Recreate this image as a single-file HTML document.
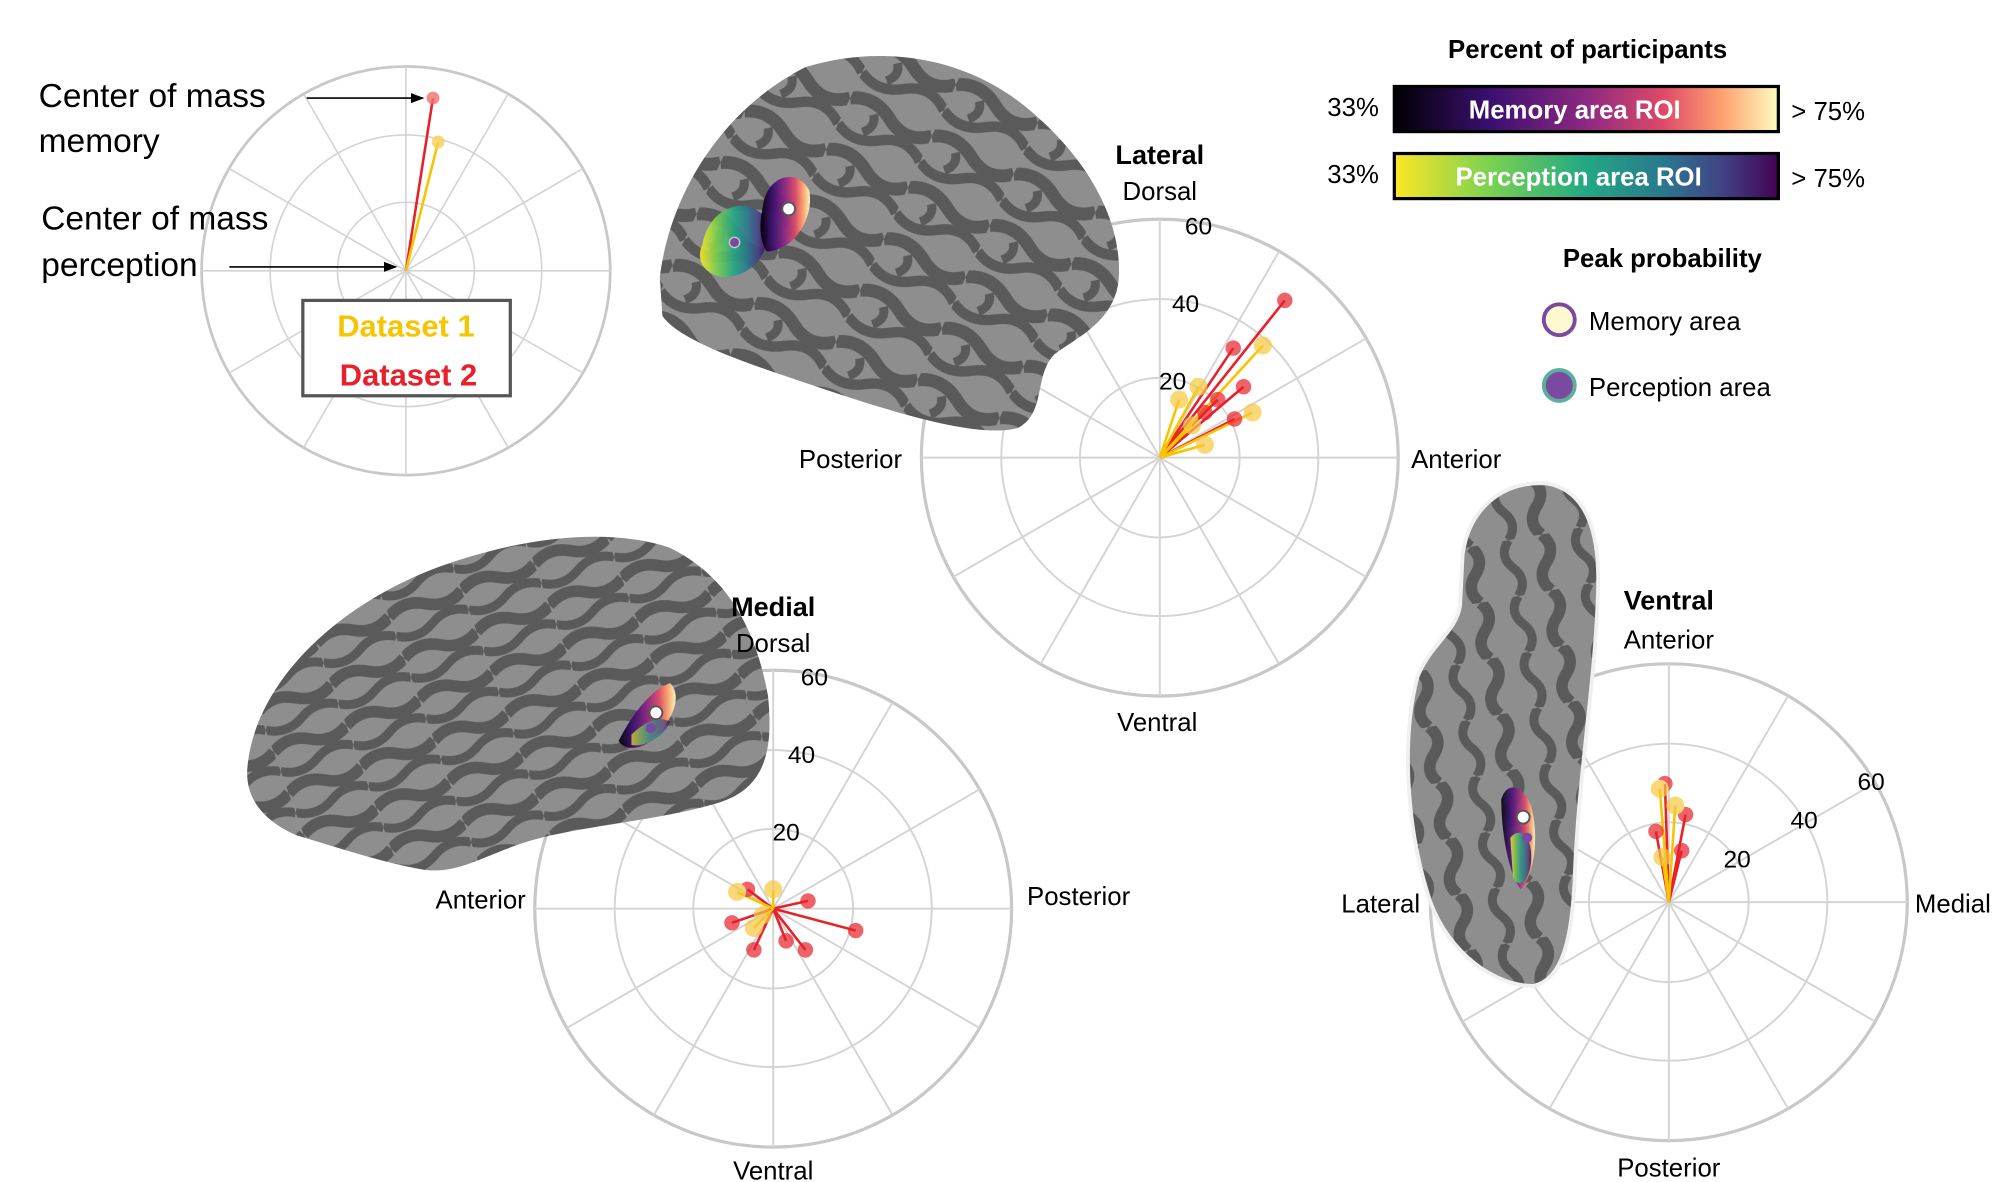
<!DOCTYPE html>
<html><head><meta charset="utf-8"><style>
html,body{margin:0;padding:0;background:#fff}
svg{display:block}
text{font-family:"Liberation Sans",sans-serif}
</style></head><body>
<svg width="2000" height="1182" viewBox="0 0 1552 917" xmlns="http://www.w3.org/2000/svg">
<defs>
<pattern id="gyri" width="70" height="44" patternUnits="userSpaceOnUse" patternTransform="rotate(25)">
<rect width="70" height="44" fill="#8e8e8e"/>
<path d="M0 10 Q17 0 35 12 T70 10" stroke="#5a5a5a" stroke-width="10" fill="none"/>
<path d="M0 32 Q17 42 35 30 T70 32" stroke="#5a5a5a" stroke-width="8" fill="none"/>
<path d="M22 14 Q28 22 20 30" stroke="#5a5a5a" stroke-width="7" fill="none"/>
</pattern>
<pattern id="gyri2" width="60" height="34" patternUnits="userSpaceOnUse" patternTransform="rotate(-20)">
<rect width="60" height="34" fill="#8e8e8e"/>
<path d="M0 9 Q15 0 30 9 T60 9" stroke="#5a5a5a" stroke-width="9" fill="none"/>
<path d="M0 25 Q15 34 30 25 T60 25" stroke="#5a5a5a" stroke-width="7" fill="none"/>
</pattern>
<pattern id="gyri3" width="44" height="56" patternUnits="userSpaceOnUse" patternTransform="rotate(80)">
<rect width="44" height="56" fill="#8e8e8e"/>
<path d="M0 14 Q11 4 22 14 T44 14" stroke="#5a5a5a" stroke-width="9" fill="none"/>
<path d="M0 40 Q11 50 22 40 T44 40" stroke="#5a5a5a" stroke-width="7" fill="none"/>
</pattern>
<linearGradient id="mag" x1="0" x2="1"><stop offset="0" stop-color="#000004"/><stop offset=".25" stop-color="#3b0f70"/><stop offset=".5" stop-color="#8c2981"/><stop offset=".7" stop-color="#de4968"/><stop offset=".85" stop-color="#fe9f6d"/><stop offset="1" stop-color="#fcfdbf"/></linearGradient>
<linearGradient id="vir" x1="0" x2="1"><stop offset="0" stop-color="#fde725"/><stop offset=".25" stop-color="#7ad151"/><stop offset=".5" stop-color="#22a884"/><stop offset=".7" stop-color="#2a788e"/><stop offset=".85" stop-color="#414487"/><stop offset="1" stop-color="#440154"/></linearGradient>
<g id="polar" fill="none" stroke="#d4d4d4" stroke-width="1.5">
<circle r="62"/><circle r="123"/><circle r="185" stroke="#c8c8c8" stroke-width="2.5"/>
<line x1="-185" y1="0" x2="185" y2="0"/><line x1="0" y1="-185" x2="0" y2="185"/>
<line x1="-160" y1="-92.5" x2="160" y2="92.5"/><line x1="-160" y1="92.5" x2="160" y2="-92.5"/>
<line x1="-92.5" y1="-160" x2="92.5" y2="160"/><line x1="-92.5" y1="160" x2="92.5" y2="-160"/>
</g>
<marker id="ar" markerWidth="8" markerHeight="8" refX="7" refY="4" orient="auto"><path d="M0 1 L8 4 L0 7z" fill="#000"/></marker>
</defs>

<!-- top-left mini polar -->
<g transform="translate(315,210) scale(0.857)">
<use href="#polar"/>
</g>
<line x1="315" y1="210" x2="336" y2="76" stroke="#e8202a" stroke-width="2"/>
<line x1="315" y1="210" x2="340" y2="110" stroke="#f7c400" stroke-width="2"/>
<circle cx="336" cy="76" r="5" fill="#f07070" opacity=".8"/>
<circle cx="340" cy="110" r="5" fill="#f8d050" opacity=".8"/>
<text x="30" y="83" font-size="26">Center of mass</text>
<text x="30" y="118" font-size="26">memory</text>
<text x="32" y="178" font-size="26">Center of mass</text>
<text x="32" y="214" font-size="26">perception</text>
<line x1="238" y1="76" x2="328" y2="76" stroke="#000" stroke-width="1.3" marker-end="url(#ar)"/>
<line x1="178" y1="207" x2="307" y2="207" stroke="#000" stroke-width="1.3" marker-end="url(#ar)"/>
<rect x="235" y="233" width="161" height="74" fill="#fff" stroke="#555" stroke-width="2.5"/>
<text x="315" y="261" font-size="24" font-weight="bold" fill="#f7c400" text-anchor="middle">Dataset 1</text>
<text x="317" y="299" font-size="24" font-weight="bold" fill="#e8202a" text-anchor="middle">Dataset 2</text>

<!-- polar grids -->
<g transform="translate(900,355)"><use href="#polar"/></g>
<g transform="translate(600,705)"><use href="#polar"/></g>
<g transform="translate(1295,700)"><use href="#polar"/></g>

<!-- Lateral brain -->
<path d="M512 215 C520 150 560 85 625 52 C680 35 745 42 795 82 C842 120 872 170 868 218 C864 250 835 262 818 275 C802 292 812 320 790 332 C760 340 700 322 640 302 C580 282 528 265 514 245 Z" fill="url(#gyri)"/>
<path d="M545 190 C550 160 580 150 595 170 C600 195 585 215 560 215 C545 212 540 200 545 190Z" fill="url(#vir)" opacity=".9"/>
<path d="M592 160 C595 135 620 130 628 148 C632 170 615 195 595 195 C588 185 590 170 592 160Z" fill="url(#mag)" opacity=".95"/>
<circle cx="612" cy="162" r="5" fill="#fff" stroke="#555" stroke-width="1.5"/>
<circle cx="570" cy="188" r="4" fill="#7a4aa0" stroke="#ccc" stroke-width="1"/>

<!-- Medial brain -->
<path d="M192 595 C198 530 260 470 340 440 C400 418 470 408 520 425 C560 445 585 480 596 540 C600 580 595 610 560 622 C520 635 460 640 420 650 C380 660 360 678 330 675 C300 670 270 660 230 648 C200 635 190 615 192 595Z" fill="url(#gyri2)"/>
<path d="M480 575 C490 555 505 535 520 530 C530 540 522 560 505 575 C495 582 485 582 480 575Z" fill="url(#mag)" opacity=".95"/>
<path d="M490 570 C500 560 512 555 520 560 C515 572 500 580 490 578Z" fill="url(#vir)" opacity=".7"/>
<circle cx="509" cy="553" r="5" fill="#fff" stroke="#555" stroke-width="1.5"/>
<circle cx="505" cy="565" r="4" fill="#7a4aa0"/>

<!-- Ventral brain -->
<path d="M1135 430 C1140 395 1165 373 1200 375 C1230 380 1242 410 1240 460 C1238 530 1225 600 1222 680 C1220 730 1212 760 1190 765 C1160 765 1125 740 1110 700 C1090 640 1088 570 1100 525 C1110 500 1130 490 1133 470 Z" fill="url(#gyri3)" stroke="#f0f0f0" stroke-width="3"/>
<path d="M1165 620 C1170 605 1182 610 1188 625 C1195 650 1190 680 1180 690 C1172 680 1165 650 1165 620Z" fill="url(#mag)" opacity=".9"/>
<path d="M1172 650 C1180 640 1190 650 1188 670 C1186 685 1178 690 1174 680Z" fill="url(#vir)" opacity=".85"/>
<circle cx="1182" cy="634" r="5" fill="#fff" stroke="#555" stroke-width="1.5"/>
<circle cx="1185" cy="650" r="4" fill="#7a4aa0"/>

<!-- Lateral labels/data -->
<text x="900" y="127" font-size="21" font-weight="bold" text-anchor="middle">Lateral</text>
<text x="900" y="155" font-size="20" text-anchor="middle">Dorsal</text>
<text x="930" y="182" font-size="19" text-anchor="middle">60</text>
<text x="920" y="242" font-size="19" text-anchor="middle">40</text>
<text x="910" y="302" font-size="19" text-anchor="middle">20</text>
<text x="700" y="363" font-size="20" text-anchor="end">Posterior</text>
<text x="1095" y="363" font-size="20">Anterior</text>
<text x="898" y="567" font-size="20" text-anchor="middle">Ventral</text>
<g stroke-width="2">
<g stroke="#e8202a">
<line x1="900" y1="355" x2="997" y2="233"/><line x1="900" y1="355" x2="957" y2="270"/><line x1="900" y1="355" x2="965" y2="300"/><line x1="900" y1="355" x2="945" y2="310"/><line x1="900" y1="355" x2="958" y2="325"/><line x1="900" y1="355" x2="935" y2="320"/></g>
<g stroke="#f7c400">
<line x1="900" y1="355" x2="980" y2="268"/><line x1="900" y1="355" x2="972" y2="320"/><line x1="900" y1="355" x2="930" y2="300"/><line x1="900" y1="355" x2="935" y2="345"/><line x1="900" y1="355" x2="915" y2="310"/><line x1="900" y1="355" x2="925" y2="330"/></g>
</g>
<g opacity=".7">
<circle cx="997" cy="233" r="6" fill="#e8202a"/><circle cx="957" cy="270" r="6" fill="#e8202a"/><circle cx="965" cy="300" r="6" fill="#e8202a"/><circle cx="945" cy="310" r="6" fill="#e8202a"/><circle cx="958" cy="325" r="6" fill="#e8202a"/><circle cx="935" cy="320" r="6" fill="#e8202a"/>
<circle cx="980" cy="268" r="7" fill="#f8c840"/><circle cx="972" cy="320" r="7" fill="#f8c840"/><circle cx="930" cy="300" r="7" fill="#f8c840"/><circle cx="935" cy="345" r="7" fill="#f8c840"/><circle cx="915" cy="310" r="7" fill="#f8c840"/><circle cx="925" cy="330" r="7" fill="#f8c840"/>
</g>

<!-- Medial labels/data -->
<text x="600" y="478" font-size="21" font-weight="bold" text-anchor="middle">Medial</text>
<text x="600" y="506" font-size="20" text-anchor="middle">Dorsal</text>
<text x="632" y="532" font-size="19" text-anchor="middle">60</text>
<text x="622" y="592" font-size="19" text-anchor="middle">40</text>
<text x="610" y="652" font-size="19" text-anchor="middle">20</text>
<text x="408" y="705" font-size="20" text-anchor="end">Anterior</text>
<text x="797" y="702" font-size="20">Posterior</text>
<text x="600" y="915" font-size="20" text-anchor="middle">Ventral</text>
<g stroke="#e8202a" stroke-width="2">
<line x1="600" y1="705" x2="664" y2="722"/><line x1="600" y1="705" x2="627" y2="699"/><line x1="600" y1="705" x2="625" y2="737"/><line x1="600" y1="705" x2="585" y2="737"/><line x1="600" y1="705" x2="568" y2="716"/><line x1="600" y1="705" x2="580" y2="690"/><line x1="600" y1="705" x2="610" y2="730"/></g>
<g stroke="#f7c400" stroke-width="2"><line x1="600" y1="705" x2="572" y2="692"/><line x1="600" y1="705" x2="585" y2="720"/><line x1="600" y1="705" x2="600" y2="690"/></g>
<g opacity=".7"><circle cx="664" cy="722" r="6" fill="#e8202a"/><circle cx="627" cy="699" r="6" fill="#e8202a"/><circle cx="625" cy="737" r="6" fill="#e8202a"/><circle cx="585" cy="737" r="6" fill="#e8202a"/><circle cx="568" cy="716" r="6" fill="#e8202a"/><circle cx="580" cy="690" r="6" fill="#e8202a"/><circle cx="610" cy="730" r="6" fill="#e8202a"/><circle cx="572" cy="692" r="7" fill="#f8c840"/><circle cx="585" cy="720" r="7" fill="#f8c840"/><circle cx="600" cy="690" r="7" fill="#f8c840"/><circle cx="592" cy="710" r="7" fill="#f8c840"/></g>

<!-- Ventral labels/data -->
<text x="1295" y="473" font-size="21" font-weight="bold" text-anchor="middle">Ventral</text>
<text x="1295" y="503" font-size="20" text-anchor="middle">Anterior</text>
<text x="1452" y="613" font-size="19" text-anchor="middle">60</text>
<text x="1400" y="643" font-size="19" text-anchor="middle">40</text>
<text x="1348" y="673" font-size="19" text-anchor="middle">20</text>
<text x="1102" y="708" font-size="20" text-anchor="end">Lateral</text>
<text x="1486" y="708" font-size="20">Medial</text>
<text x="1295" y="913" font-size="20" text-anchor="middle">Posterior</text>
<g stroke-width="2"><g stroke="#e8202a"><line x1="1295" y1="700" x2="1292" y2="608"/><line x1="1295" y1="700" x2="1308" y2="632"/><line x1="1295" y1="700" x2="1285" y2="645"/><line x1="1295" y1="700" x2="1305" y2="660"/></g>
<g stroke="#f7c400"><line x1="1295" y1="700" x2="1288" y2="612"/><line x1="1295" y1="700" x2="1300" y2="625"/><line x1="1295" y1="700" x2="1290" y2="665"/></g></g>
<g opacity=".7"><circle cx="1292" cy="608" r="6" fill="#e8202a"/><circle cx="1308" cy="632" r="6" fill="#e8202a"/><circle cx="1285" cy="645" r="6" fill="#e8202a"/><circle cx="1305" cy="660" r="6" fill="#e8202a"/><circle cx="1288" cy="612" r="7" fill="#f8c840"/><circle cx="1300" cy="625" r="7" fill="#f8c840"/><circle cx="1290" cy="665" r="7" fill="#f8c840"/></g>

<!-- Legend -->
<text x="1232" y="45" font-size="20" font-weight="bold" text-anchor="middle">Percent of participants</text>
<text x="1070" y="90" font-size="20" text-anchor="end">33%</text>
<rect x="1082" y="67" width="298" height="35" fill="url(#mag)" stroke="#000" stroke-width="2.5"/>
<text x="1222" y="92" font-size="20" font-weight="bold" fill="#fff" text-anchor="middle">Memory area ROI</text>
<text x="1390" y="93" font-size="20">&gt; 75%</text>
<text x="1070" y="142" font-size="20" text-anchor="end">33%</text>
<rect x="1082" y="119" width="298" height="35" fill="url(#vir)" stroke="#000" stroke-width="2.5"/>
<text x="1225" y="144" font-size="20" font-weight="bold" fill="#fff" text-anchor="middle">Perception area ROI</text>
<text x="1390" y="145" font-size="20">&gt; 75%</text>
<text x="1290" y="207" font-size="20" font-weight="bold" text-anchor="middle">Peak probability</text>
<circle cx="1210" cy="248" r="12" fill="#fdf8d0" stroke="#7a4aa0" stroke-width="3"/>
<text x="1233" y="256" font-size="20">Memory area</text>
<circle cx="1210" cy="299" r="12" fill="#7a4aa0" stroke="#5ab09a" stroke-width="3"/>
<text x="1233" y="307" font-size="20">Perception area</text>
</svg>
</body></html>
